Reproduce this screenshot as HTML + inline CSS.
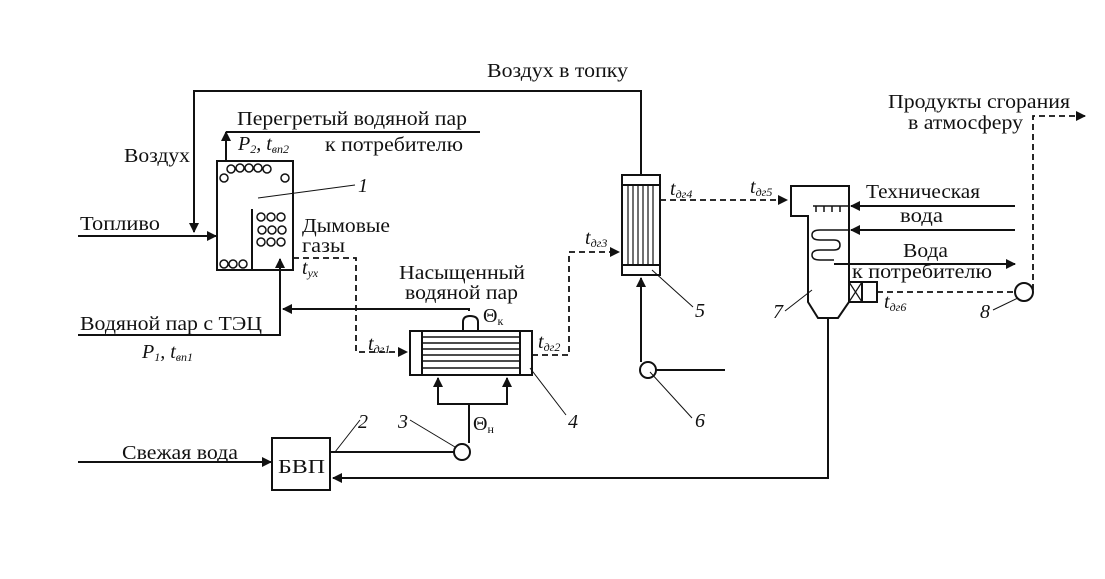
<!DOCTYPE html>
<html><head><meta charset="utf-8"><style>
body{margin:0;background:#fff}
svg{display:block}
text{font-family:"Liberation Serif",serif;font-size:20px;fill:#111}
.i{font-style:italic}
</style></head><body>
<svg width="1105" height="579" viewBox="0 0 1105 579" xmlns="http://www.w3.org/2000/svg">
<defs>
<marker id="a" markerWidth="10" markerHeight="10" refX="9" refY="5" orient="auto" markerUnits="userSpaceOnUse"><path d="M0,0 L10,5 L0,10 Z" fill="#111"/></marker>
</defs>
<g stroke="#111" stroke-width="2" fill="none">
<rect x="217" y="161" width="76" height="109"/>
<polyline points="252,270 252,209"/>
<g stroke-width="1.5">
<circle cx="224" cy="178" r="4"/><circle cx="231" cy="169" r="4"/><circle cx="240" cy="168" r="4"/><circle cx="249" cy="168" r="4"/><circle cx="258" cy="168" r="4"/><circle cx="267" cy="169" r="4"/><circle cx="285" cy="178" r="4"/>
<circle cx="261" cy="217" r="4"/><circle cx="271" cy="217" r="4"/><circle cx="281" cy="217" r="4"/>
<circle cx="262" cy="230" r="4"/><circle cx="272" cy="230" r="4"/><circle cx="282" cy="230" r="4"/>
<circle cx="261" cy="242" r="4"/><circle cx="271" cy="242" r="4"/><circle cx="281" cy="242" r="4"/>
<circle cx="224" cy="264" r="4"/><circle cx="233" cy="264" r="4"/><circle cx="243" cy="264" r="4"/>
</g>
<line x1="258" y1="198" x2="355" y2="185" stroke-width="1"/>
<polyline points="641,175 641,91 194,91 194,232" marker-end="url(#a)"/>
<line x1="78" y1="236" x2="216" y2="236" marker-end="url(#a)"/>
<line x1="226" y1="160" x2="226" y2="132" marker-end="url(#a)"/>
<line x1="226" y1="132" x2="480" y2="132"/>
<polyline points="78,335 280,335 280,259" marker-end="url(#a)"/>
<polyline points="469,311 469,309 283,309" marker-end="url(#a)"/>
<rect x="410" y="331" width="122" height="44"/>
<line x1="422" y1="331" x2="422" y2="375"/><line x1="520" y1="331" x2="520" y2="375"/>
<g stroke-width="1.5"><line x1="422" y1="337" x2="520" y2="337"/><line x1="422" y1="343" x2="520" y2="343"/><line x1="422" y1="349" x2="520" y2="349"/><line x1="422" y1="355" x2="520" y2="355"/><line x1="422" y1="361" x2="520" y2="361"/><line x1="422" y1="368" x2="520" y2="368"/></g>
<path d="M463,331 V322 Q463,316 470,316 Q478,316 478,322 V331"/>
<polyline points="469,443 469,404 438,404 438,378" marker-end="url(#a)"/>
<polyline points="469,404 507,404 507,378" marker-end="url(#a)"/>
<circle cx="462" cy="452" r="8"/>
<line x1="331" y1="452" x2="454" y2="452"/>
<rect x="272" y="438" width="58" height="52"/>
<line x1="78" y1="462" x2="271" y2="462" marker-end="url(#a)"/>
<polyline points="828,318 828,478 333,478" marker-end="url(#a)"/>
<rect x="622" y="175" width="38" height="100"/>
<line x1="622" y1="185" x2="660" y2="185"/><line x1="622" y1="265" x2="660" y2="265"/>
<g stroke-width="1.2"><line x1="628" y1="185" x2="628" y2="265"/><line x1="633" y1="185" x2="633" y2="265"/><line x1="638" y1="185" x2="638" y2="265"/><line x1="643" y1="185" x2="643" y2="265"/><line x1="648" y1="185" x2="648" y2="265"/><line x1="653" y1="185" x2="653" y2="265"/></g>
<line x1="641" y1="362" x2="641" y2="278" marker-end="url(#a)"/>
<circle cx="648" cy="370" r="8"/>
<line x1="656" y1="370" x2="725" y2="370"/>
<path d="M791,186 H849 V302 L838,318 H818 L808,302 V216 H791 Z"/>
<path d="M813,206 H848 M816,206 V212 M824,206 V212 M832,206 V212 M840,206 V212" stroke-width="1.5"/>
<path d="M848,230 H820 Q812,230 812,235 Q812,240 820,240 H834 Q840,240 840,245 Q840,250 834,250 H820 Q812,250 812,255 Q812,260 820,260 H834" stroke-width="1.5"/>
<line x1="1015" y1="206" x2="851" y2="206" marker-end="url(#a)"/>
<line x1="1015" y1="230" x2="851" y2="230" marker-end="url(#a)"/>
<line x1="834" y1="264" x2="1015" y2="264" marker-end="url(#a)"/>
<rect x="849" y="282" width="28" height="20"/>
<line x1="862" y1="282" x2="862" y2="302"/>
<line x1="849" y1="282" x2="862" y2="302" stroke-width="1.2"/><line x1="862" y1="282" x2="849" y2="302" stroke-width="1.2"/>
<circle cx="1024" cy="292" r="9"/>
<g stroke-width="1"><line x1="335" y1="452" x2="360" y2="420"/><line x1="410" y1="420" x2="455" y2="447"/><line x1="530" y1="368" x2="566" y2="415"/><line x1="652" y1="270" x2="693" y2="307"/><line x1="650" y1="372" x2="692" y2="418"/><line x1="785" y1="311" x2="812" y2="290"/><line x1="993" y1="310" x2="1018" y2="298"/></g>
</g>
<g stroke="#111" stroke-width="1.8" fill="none" stroke-dasharray="6,4">
<polyline points="293,258 356,258 356,352 407,352" marker-end="url(#a)"/>
<polyline points="532,355 569,355 569,252 619,252" marker-end="url(#a)"/>
<polyline points="660,200 787,200" marker-end="url(#a)"/>
<line x1="877" y1="292" x2="1015" y2="292"/>
<polyline points="1033,290 1033,116 1085,116" marker-end="url(#a)"/>
</g>
<text x="487" y="77" textLength="141" lengthAdjust="spacingAndGlyphs">Воздух в топку</text>
<text x="237" y="125" textLength="230" lengthAdjust="spacingAndGlyphs">Перегретый водяной пар</text>
<text x="238" y="150" class="i">P<tspan font-size="12" dy="3">2</tspan><tspan dy="-3">, t</tspan><tspan font-size="12" dy="3">вп2</tspan></text>
<text x="325" y="151" textLength="138" lengthAdjust="spacingAndGlyphs">к потребителю</text>
<text x="124" y="162" textLength="66" lengthAdjust="spacingAndGlyphs">Воздух</text>
<text x="358" y="192" class="i">1</text>
<text x="80" y="230" textLength="80" lengthAdjust="spacingAndGlyphs">Топливо</text>
<text x="302" y="232" textLength="88" lengthAdjust="spacingAndGlyphs">Дымовые</text>
<text x="302" y="252" textLength="43" lengthAdjust="spacingAndGlyphs">газы</text>
<text x="302" y="274" class="i">t<tspan font-size="12" dy="3">ух</tspan></text>
<text x="399" y="279" textLength="126" lengthAdjust="spacingAndGlyphs">Насыщенный</text>
<text x="405" y="299" textLength="113" lengthAdjust="spacingAndGlyphs">водяной пар</text>
<text x="80" y="330" textLength="182" lengthAdjust="spacingAndGlyphs">Водяной пар с ТЭЦ</text>
<text x="142" y="358" class="i">P<tspan font-size="12" dy="3">1</tspan><tspan dy="-3">, t</tspan><tspan font-size="12" dy="3">вп1</tspan></text>
<text x="483" y="322">Θ<tspan font-size="12" dy="3">к</tspan></text>
<text x="368" y="350" class="i">t<tspan font-size="12" dy="3">дг1</tspan></text>
<text x="538" y="348" class="i">t<tspan font-size="12" dy="3">дг2</tspan></text>
<text x="585" y="244" class="i">t<tspan font-size="12" dy="3">дг3</tspan></text>
<text x="670" y="195" class="i">t<tspan font-size="12" dy="3">дг4</tspan></text>
<text x="750" y="193" class="i">t<tspan font-size="12" dy="3">дг5</tspan></text>
<text x="884" y="308" class="i">t<tspan font-size="12" dy="3">дг6</tspan></text>
<text x="866" y="198" textLength="114" lengthAdjust="spacingAndGlyphs">Техническая</text>
<text x="900" y="222" textLength="43" lengthAdjust="spacingAndGlyphs">вода</text>
<text x="903" y="257" textLength="45" lengthAdjust="spacingAndGlyphs">Вода</text>
<text x="852" y="278" textLength="140" lengthAdjust="spacingAndGlyphs">к потребителю</text>
<text x="888" y="108" textLength="182" lengthAdjust="spacingAndGlyphs">Продукты сгорания</text>
<text x="908" y="129" textLength="115" lengthAdjust="spacingAndGlyphs">в атмосферу</text>
<text x="473" y="430">Θ<tspan font-size="12" dy="3">н</tspan></text>
<text x="122" y="459" textLength="116" lengthAdjust="spacingAndGlyphs">Свежая вода</text>
<text x="278" y="473" font-size="21" textLength="47" lengthAdjust="spacingAndGlyphs">БВП</text>
<text x="358" y="428" class="i">2</text>
<text x="398" y="428" class="i">3</text>
<text x="568" y="428" class="i">4</text>
<text x="695" y="317" class="i">5</text>
<text x="695" y="427" class="i">6</text>
<text x="773" y="318" class="i">7</text>
<text x="980" y="318" class="i">8</text>
</svg>
</body></html>
